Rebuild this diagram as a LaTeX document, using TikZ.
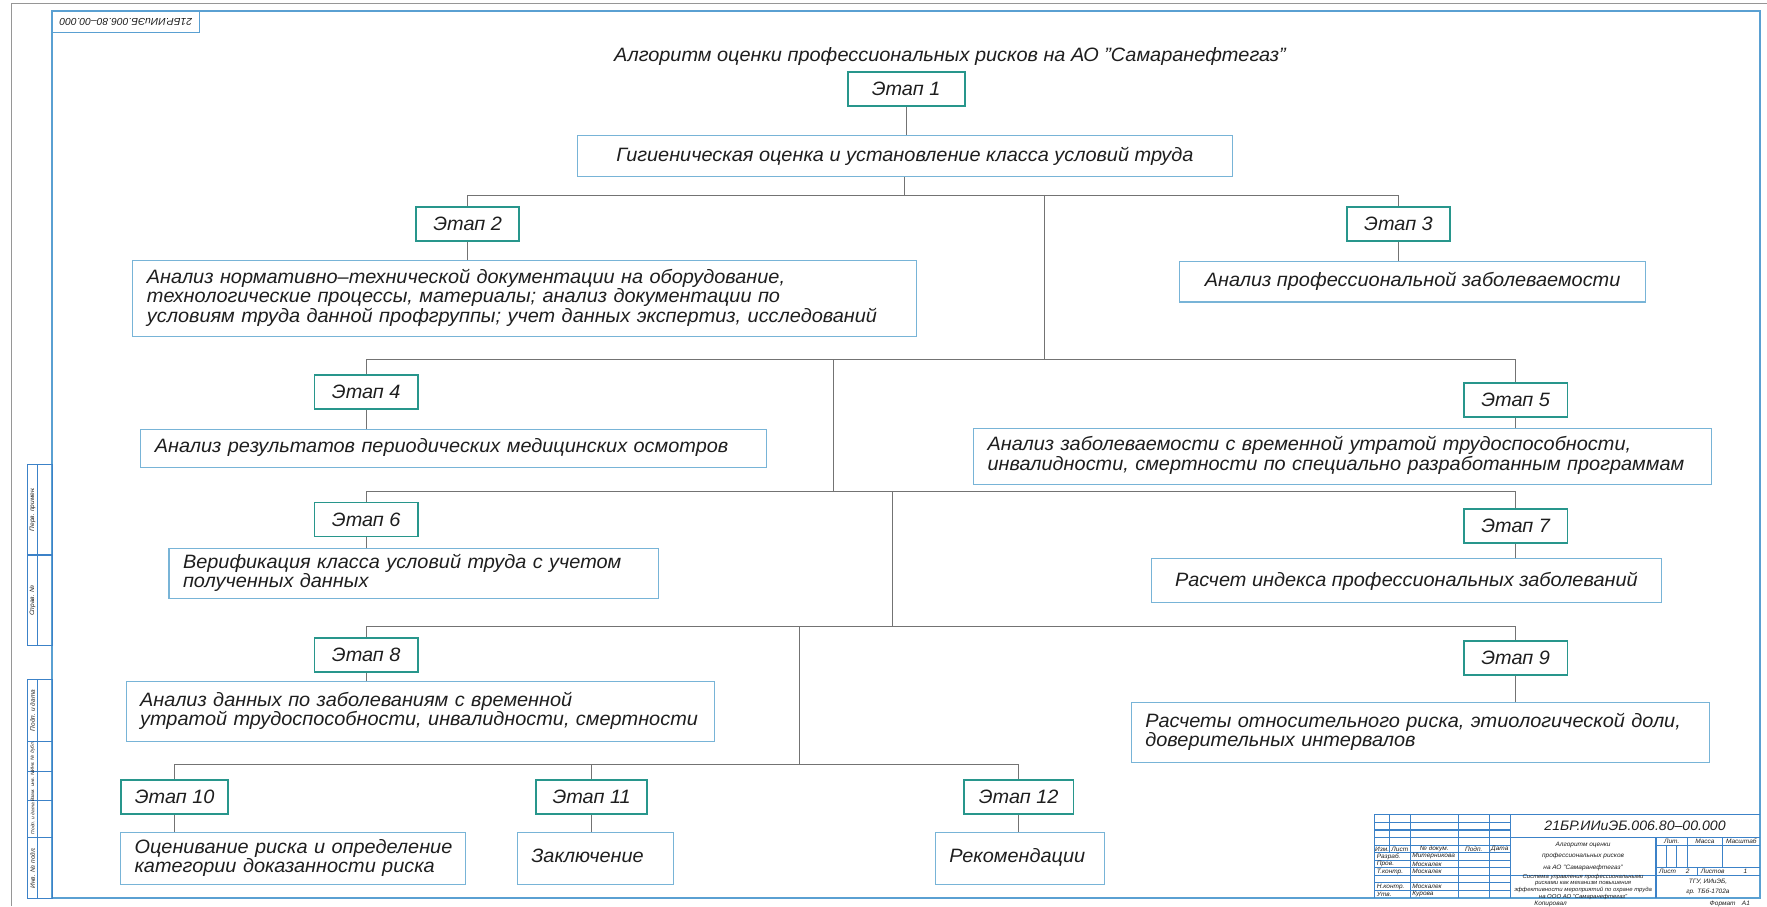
\documentclass[tikz,border=0pt]{standalone}
\usepackage{fontspec}
\setmainfont{Liberation Sans}[FakeStretch=1.03]
\usepackage{tikz}
\usetikzlibrary{positioning}
\definecolor{etapcol}{RGB}{40,150,140}
\definecolor{boxcol}{RGB}{120,180,215}
\definecolor{linecol}{RGB}{115,115,115}
\definecolor{framecol}{RGB}{90,160,210}
\definecolor{blockcol}{RGB}{60,130,200}
\definecolor{sheetcol}{RGB}{150,150,150}
\definecolor{inkcol}{RGB}{30,30,30}
\newcommand{\rows}[1]{\begin{tabular}{@{}l@{}}#1\end{tabular}}
\tikzstyle{etap}=[%
      rectangle, draw=etapcol, line width=1.1pt, text=inkcol,
      minimum width=2.07cm, minimum height=0.68cm, inner sep=0pt,
      font=\itshape\fontsize{11}{10.5}\selectfont
]
\tikzstyle{txt}=[%
      rectangle, draw=boxcol, line width=0.6pt, text=inkcol,
      inner xsep=0.28cm, inner ysep=0pt, align=center,
      font=\itshape\fontsize{11}{10.5}\selectfont
]
\tikzstyle{txtl}=[txt, align=left]
\tikzstyle{link}=[draw=linecol, line width=0.5pt]
\tikzstyle{tb}=[inner sep=0pt, text=inkcol, font=\itshape\fontsize{3.6}{4.2}\selectfont]
\tikzstyle{tbs}=[tb, font=\itshape\fontsize{2.7}{3}\selectfont]
\tikzstyle{tbline}=[draw=blockcol, line width=0.6pt]

\begin{document}
\begin{tikzpicture}[x=0.02254cm, y=-0.02254cm]
    \useasboundingbox (0,0) rectangle (1568,804);

    % sheet and frame
    \draw[sheetcol, line width=0.6pt] (10.6,804) -- (10.6,3.5) -- (1568,3.5);
    \draw[framecol, line width=0.9pt] (46.4,9.8) rectangle (1561.7,797);
    \draw[framecol, line width=0.9pt] (46.4,29) -| (177,9.8);
    \node[tb, rotate=180, font=\itshape\fontsize{5.7}{6}\selectfont] (stamp) at (111.7,19.4) {21БР.ИИиЭБ.006.80–00.000};

    % left strip
    \draw[tbline] (24.3,412) rectangle (46.4,573);
    \draw[tbline] (33.5,412) -- (33.5,573);
    \draw[tbline] (24.3,492.5) -- (46.4,492.5);
    \draw[tbline] (24.3,603) rectangle (46.4,797);
    \draw[tbline] (33.5,603) -- (33.5,797);
    \draw[tbline] (24.3,658) -- (46.4,658);
    \draw[tbline] (24.3,685) -- (46.4,685);
    \draw[tbline] (24.3,710) -- (46.4,710);
    \draw[tbline] (24.3,743) -- (46.4,743);
    \node[tb, rotate=90] (perv) at (28.9,452) {Перв. примен.};
    \node[tb, rotate=90] (sprav) at (28.9,533) {Справ. №};
    \node[tb, rotate=90] (podp1) at (28.9,630.5) {Подп. и дата};
    \node[tbs, rotate=90] (dubl) at (28.9,671.5) {Инв. № дубл.};
    \node[tbs, rotate=90] (vzam) at (28.9,697.5) {Взам. инв. №};
    \node[tbs, rotate=90] (podp2) at (28.9,726.5) {Подп. и дата};
    \node[tb, rotate=90] (podl) at (28.9,770) {Инв. № подл.};

    % title block
    \draw[tbline] (1220,797) -- (1220,723) -- (1561.7,723);
    \draw[tbline] (1220,729.7) -- (1340.1,729.7);
    \draw[tbline] (1220,736.5) -- (1340.1,736.5);
    \draw[tbline] (1220,743.2) -- (1561.7,743.2);
    \draw[tbline] (1220,749.9) -- (1340.1,749.9);
    \draw[tbline] (1220,756.6) -- (1340.1,756.6);
    \draw[tbline] (1220,763.4) -- (1340.1,763.4);
    \draw[tbline] (1220,770.1) -- (1340.1,770.1);
    \draw[tbline] (1220,776.8) -- (1561.7,776.8);
    \draw[tbline] (1220,783.5) -- (1340.1,783.5);
    \draw[tbline] (1220,790.3) -- (1340.1,790.3);
    \draw[tbline] (1232.9,723) -- (1232.9,756.6);
    \draw[tbline] (1251.4,723) -- (1251.4,797);
    \draw[tbline] (1293.9,723) -- (1293.9,797);
    \draw[tbline] (1321.6,723) -- (1321.6,797);
    \draw[tbline] (1340.1,723) -- (1340.1,797);
    \draw[tbline] (1469.5,743.2) -- (1469.5,797);
    \draw[tbline] (1469.5,749.9) -- (1561.7,749.9);
    \draw[tbline] (1469.5,770.1) -- (1561.7,770.1);
    \draw[tbline] (1478.7,749.9) -- (1478.7,770.1);
    \draw[tbline] (1488,749.9) -- (1488,770.1);
    \draw[tbline] (1497.2,743.2) -- (1497.2,770.1);
    \draw[tbline] (1528.6,743.2) -- (1528.6,770.1);
    \draw[tbline] (1506,770.1) -- (1506,776.8);

    \node[tb, font=\itshape\fontsize{7.8}{8}\selectfont] (oboz) at (1450.9,733) {21БР.ИИиЭБ.006.80–00.000};
    \node[tb] (izm) at (1226.5,753.3) {Изм.};
    \node[tb] (list) at (1242.2,753.3) {Лист};
    \node[tb] (ndok) at (1272.7,753.3) {№ докум.};
    \node[tb] (podp) at (1307.8,753.3) {Подп.};
    \node[tb] (data) at (1330.9,753.3) {Дата};
    \node[tb, anchor=west] (razr) at (1221.5,760) {Разраб.};
    \node[tb, anchor=west] (razrf) at (1253,760) {Митерникова};
    \node[tb, anchor=west] (prov) at (1221.5,766.8) {Пров.};
    \node[tb, anchor=west] (provf) at (1253,766.8) {Москалек};
    \node[tb, anchor=west] (tkon) at (1221.5,773.5) {Т.контр.};
    \node[tb, anchor=west] (tkonf) at (1253,773.5) {Москалек};
    \node[tb, anchor=west] (nkon) at (1221.5,786.9) {Н.контр.};
    \node[tb, anchor=west] (nkonf) at (1253,786.9) {Москалек};
    \node[tb, anchor=west] (utv) at (1221.5,793.6) {Утв.};
    \node[tb, anchor=west] (utvf) at (1253,793.6) {Курова};
    \node[tb, align=center, font=\itshape\fontsize{3.6}{6.3}\selectfont] (naim) at (1404.8,760) {Алгоритм оценки\\профессиональных рисков\\на АО "Самаранефтегаз"};
    \node[tb] (lit) at (1483.4,746.5) {Лит.};
    \node[tb] (massa) at (1512.9,746.5) {Масса};
    \node[tb] (masht) at (1545.2,746.5) {Масштаб};
    \node[tb, anchor=west] (lst) at (1472,773.5) {Лист\quad\ \ 2};
    \node[tb, anchor=west] (lstv) at (1509,773.5) {Листов\qquad\quad 1};
    \node[tb, align=center, font=\itshape\fontsize{3.3}{3.9}\selectfont] (sist) at (1404.8,787) {Система управления профессиональными\\рисками как механизм повышения\\эффективности мероприятий по охране труда\\на ООО АО "Самаранефтегаз"};
    \node[tb, align=center, font=\itshape\fontsize{3.6}{5.5}\selectfont] (org) at (1515.6,787) {ТГУ, ИИиЭБ,\\гр. ТБб-1702а};
    \node[tb, anchor=north] (kop) at (1376,799.5) {Копировал};
    \node[tb, anchor=north] (form) at (1535,799.5) {Формат\quad А1};

    % algorithm
    \node[text=inkcol, font=\itshape\fontsize{11}{10.5}\selectfont] (title) at (843,50) {Алгоритм оценки профессиональных рисков на АО "Самаранефтегаз"};

    \node[etap, minimum width=2.34cm] (e1) at (804,79) {Этап 1};
    \node[txt, minimum width=13.1cm, minimum height=0.834cm, inner xsep=0pt] (g1) at (803,138.5) {Гигиеническая оценка и установление класса условий труда};

    \node[etap] (e2) at (415,198.5) {Этап 2};
    \node[etap] (e3) at (1241,198.5) {Этап 3};
    \node[txtl, text width=15.105cm, minimum height=1.533cm] (b2) at (465.5,265) {\rows{Анализ нормативно–технической документации на оборудование,\\технологические процессы, материалы; анализ документации по\\условиям труда данной профгруппы; учет данных экспертиз, исследований}};
    \node[txt, minimum width=9.31cm, minimum height=0.811cm, inner xsep=0pt] (b3) at (1253.5,250) {Анализ профессиональной заболеваемости};

    \node[etap] (e4) at (325,348) {Этап 4};
    \node[etap] (e5) at (1345,355) {Этап 5};
    \node[txtl, text width=11.95cm, minimum height=0.766cm] (b4) at (402.5,398) {\rows{Анализ результатов периодических медицинских осмотров}};
    \node[txtl, text width=14.204cm, minimum height=1.127cm] (b5) at (1191.5,405) {\rows{Анализ заболеваемости с временной утратой трудоспособности,\\инвалидности, смертности по специально разработанным программам}};

    \node[etap] (e6) at (325,461) {Этап 6};
    \node[etap] (e7) at (1345,467) {Этап 7};
    \node[txtl, text width=9.222cm, minimum height=0.992cm] (b6) at (367,509) {\rows{Верификация класса условий труда с учетом\\полученных данных}};
    \node[txt, minimum width=10.19cm, minimum height=0.879cm, inner xsep=0pt] (b7) at (1248,515.5) {Расчет индекса профессиональных заболеваний};

    \node[etap] (e8) at (325,581.5) {Этап 8};
    \node[etap] (e9) at (1345,584) {Этап 9};
    \node[txtl, text width=11.206cm, minimum height=1.195cm] (b8) at (373,631.5) {\rows{Анализ данных по заболеваниям с временной\\утратой трудоспособности, инвалидности, смертности}};
    \node[txtl, text width=11.003cm, minimum height=1.217cm] (b9) at (1260.5,650) {\rows{Расчеты относительного риска, этиологической доли,\\доверительных интервалов}};

    \node[etap, minimum width=2.14cm] (e10) at (155,707.5) {Этап 10};
    \node[etap, minimum width=2.23cm] (e11) at (525,707.5) {Этап 11};
    \node[etap, minimum width=2.19cm] (e12) at (904,707.5) {Этап 12};
    \node[txtl, text width=6.337cm, minimum height=1.037cm] (b10) at (260,762) {\rows{Оценивание риска и определение\\категории доказанности риска}};
    \node[txtl, text width=2.573cm, minimum height=1.037cm] (b11) at (528.5,762) {\rows{Заключение}};
    \node[txtl, text width=2.821cm, minimum height=1.037cm] (b12) at (905,762) {\rows{Рекомендации}};

    \coordinate (j1) at (927,173);
    \coordinate (j2) at (740,319);
    \coordinate (j3) at (792,436);
    \coordinate (j4) at (709,556);
    \coordinate (j5) at (707,678);

    \draw[link] (e1.south) -- (e1.south |- g1.north);
    \draw[link] (g1.south) -- (g1.south |- j1);
    \draw[link] (e2.north) |- (j1) -| (e3.north);
    \draw[link] (e2.south) -- (e2.south |- b2.north);
    \draw[link] (e3.south) -- (e3.south |- b3.north);
    \draw[link] (j1) -- (j1 |- j2);
    \draw[link] (e4.north) |- (j2) -| (e5.north);
    \draw[link] (e4.south) -- (e4.south |- b4.north);
    \draw[link] (e5.south) -- (e5.south |- b5.north);
    \draw[link] (j2) -- (j2 |- j3);
    \draw[link] (e6.north) |- (j3) -| (e7.north);
    \draw[link] (e6.south) -- (e6.south |- b6.north);
    \draw[link] (e7.south) -- (e7.south |- b7.north);
    \draw[link] (j3) -- (j3 |- j4);
    \draw[link] (e8.north) |- (j4) -| (e9.north);
    \draw[link] (e8.south) -- (e8.south |- b8.north);
    \draw[link] (e9.south) -- (e9.south |- b9.north);
    \draw[link] (j4) -- (j4 |- j5);
    \draw[link] (e10.north) |- (j5) -| (e12.north);
    \draw[link] (e11.north) -- (e11.north |- j5);
    \draw[link] (e10.south) -- (e10.south |- b10.north);
    \draw[link] (e11.south) -- (e11.south |- b11.north);
    \draw[link] (e12.south) -- (e12.south |- b12.north);

\end{tikzpicture}
\end{document}
